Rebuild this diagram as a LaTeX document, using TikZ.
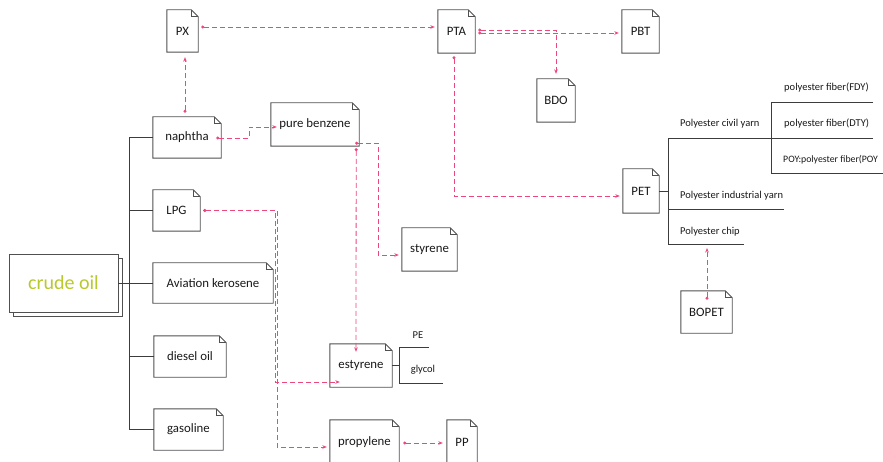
\documentclass[tikz,border=0pt]{standalone}
\usepackage{fontspec}
\setmainfont{Carlito}
\usetikzlibrary{arrows.meta,shadows}
\definecolor{flow}{RGB}{236,72,124}
\definecolor{boxc}{RGB}{80,80,80}
\definecolor{treec}{RGB}{60,60,60}
\definecolor{txt}{RGB}{25,25,25}
\definecolor{oilc}{RGB}{185,200,46}
\tikzset{
  doc/.style={inner sep=0pt, text=txt, font=\fontsize{12.8}{14}\selectfont},
  boxline/.style={draw=boxc, line width=0.9pt},
  flowline/.style={draw=flow, line width=0.8pt, dash pattern=on 5pt off 3pt,
    {Circle[length=3pt]}-{Stealth[length=4.5pt,width=3.6pt]}},
  tree/.style={draw=treec, line width=0.8pt},
  small/.style={inner sep=0pt, anchor=west, text=txt, font=\fontsize{10.5}{12}\selectfont},
}
\begin{document}
\begin{tikzpicture}[x=1pt,y=-1pt]
\useasboundingbox (0,0) rectangle (883,462);
\clip (0,0) rectangle (883,462);
\fill[white] (0,0) rectangle (883,462);

% document nodes
\node[doc, minimum width=31pt, minimum height=42pt] (px) at (182.5,31) {PX};
\node[doc, minimum width=37pt, minimum height=43pt] (pta) at (456.5,31.5) {PTA};
\node[doc, minimum width=37pt, minimum height=43pt] (pbt) at (640.5,31.5) {PBT};
\node[doc, minimum width=38pt, minimum height=43pt] (bdo) at (556,100.5) {BDO};
\node[doc, minimum width=68pt, minimum height=41pt] (naphtha) at (187,137.5) {naphtha};
\node[doc, minimum width=88pt, minimum height=43pt] (benzene) at (315,124.5) {pure benzene};
\node[doc, minimum width=47pt, minimum height=41pt] (lpg) at (176.5,210.5) {LPG};
\node[doc, minimum width=120pt, minimum height=40pt] (avi) at (213,283) {Aviation kerosene};
\node[doc, minimum width=55pt, minimum height=43pt] (styrene) at (429.5,249.5) {styrene};
\node[doc, minimum width=72pt, minimum height=41pt] (diesel) at (190,356.5) {diesel oil};
\node[doc, minimum width=69pt, minimum height=41pt] (gasoline) at (188.5,429.5) {gasoline};
\node[doc, minimum width=62pt, minimum height=43pt] (estyrene) at (361,365.5) {estyrene};
\node[doc, minimum width=69pt, minimum height=44pt] (propylene) at (364.5,442) {propylene};
\node[doc, minimum width=30pt, minimum height=44pt] (pp) at (462,442) {PP};
\node[doc, minimum width=36pt, minimum height=44pt] (pet) at (641,191) {PET};
\node[doc, minimum width=51pt, minimum height=42pt] (bopet) at (706.5,312) {BOPET};

\foreach \n in {px,pta,pbt,bdo,naphtha,benzene,lpg,avi,styrene,diesel,gasoline,estyrene,propylene,pp,pet,bopet}{
  \draw[boxline] (\n.north west) -- ([xshift=-7pt]\n.north east) -- ([yshift=-7pt]\n.north east)
     -- (\n.south east) -- (\n.south west) -- cycle;
  \draw[boxline] ([xshift=-7pt]\n.north east) -- ([xshift=-7pt,yshift=-7pt]\n.north east) -- ([yshift=-7pt]\n.north east);
}

% crude oil
\node[draw=boxc, line width=0.9pt, fill=white, minimum width=109pt, minimum height=58pt,
  copy shadow={shadow xshift=4pt, shadow yshift=-4pt},
  text=oilc, font=\fontsize{20}{22}\selectfont] (oil) at (63.5,283) {crude oil};

% trunk
\coordinate (tt) at (129,137.5);
\coordinate (tb) at (129,429.5);
\draw[tree] (naphtha.west) -- (tt) -- (tb) -- (gasoline.west);
\draw[tree] (lpg.west) -- (lpg.west -| tt);
\draw[tree] (diesel.west) -- (diesel.west -| tt);
\draw[tree] (oil.east) -- (oil.east -| avi.west);

% estyrene branch
\coordinate (pe1) at (399,347);
\coordinate (pe2) at (429,347);
\coordinate (gl1) at (399,383);
\coordinate (gl2) at (443,383);
\draw[tree] (estyrene.east) -- (estyrene.east -| pe1);
\draw[tree] (pe2) -- (pe1) -- (gl1) -- (gl2);
\node[small, anchor=center] (pe) at (418,335) {PE};
\node[small, anchor=center] (glycol) at (423,370) {glycol};

% PET branch
\coordinate (v1) at (668,138);
\coordinate (v2) at (668,244);
\coordinate (civ) at (873,138);
\coordinate (ind1) at (668,209);
\coordinate (ind2) at (784,209);
\coordinate (chipc) at (707,244);
\coordinate (chip2) at (744,244);
\coordinate (w1) at (771,102);
\coordinate (w2) at (771,173);
\coordinate (fdy) at (873,102);
\coordinate (poy) at (885,173);
\draw[tree] (pet.east) -- (pet.east -| v1);
\draw[tree] (civ) -- (v1) -- (v2) -- (chip2);
\draw[tree] (ind1) -- (ind2);
\draw[tree] (fdy) -- (w1) -- (w2) -- (poy);
\node[small] (t1) at (680,124) {Polyester civil yarn};
\node[small] (t2) at (680,196) {Polyester industrial yarn};
\node[small] (t3) at (680,232) {Polyester chip};
\node[small] (f1) at (784,88) {polyester fiber(FDY)};
\node[small] (f2) at (784,124) {polyester fiber(DTY)};
\node[small, font=\fontsize{9.8}{12}\selectfont] (f3) at (783,160) {POY:polyester fiber(POY};

% flows
\draw[flowline, shorten <=3pt, shorten >=3pt] ([yshift=4pt]px.east) -- ([yshift=4pt]px.east -| pta.west);
\draw[flowline, shorten <=4pt, shorten >=5pt] ([xshift=2.5pt]px.south |- naphtha.north) -- ([xshift=2.5pt]px.south);
\draw[flowline] ([xshift=-5pt,yshift=-0.5pt]naphtha.east) -- ++(33pt,0) |- ([xshift=6pt,yshift=-2.5pt]benzene.west);
\draw[flowline, shorten <=3pt, shorten >=3pt] ([yshift=-1.5pt]pta.east) -- ([yshift=-1.5pt]pta.east -| pbt.west);
\draw[flowline, shorten <=3pt, shorten >=5pt] ([yshift=1.5pt]pta.east) -| (bdo.north);
\draw[flowline, shorten <=3pt, shorten >=3pt] ([xshift=-2.5pt]pta.south) |- ([yshift=-5pt]pet.west);
\draw[flowline, shorten >=3pt] ([shift={(-4pt,3pt)}]benzene.south east) -- ++(23pt,0) |- ([yshift=-5.5pt]styrene.west);
\draw[flowline, shorten <=2pt] ([xshift=-3pt]benzene.south east) -- ([xshift=-5pt,yshift=-8pt]estyrene.north);
\draw[flowline, shorten <=3pt] (lpg.east) -- ++(75pt,0) |- ([xshift=10pt,yshift=-16.5pt]estyrene.west);
\draw[flowline, shorten <=3pt, shorten >=3pt] (lpg.east) -- ++(77pt,0) |- ([yshift=-5pt]propylene.west);
\draw[flowline, shorten <=4pt, shorten >=4pt] ([yshift=-1pt]propylene.east) -- ([yshift=-1pt]propylene.east -| pp.west);
\draw[flowline, shorten >=4pt] ([xshift=0.5pt,yshift=-9pt]bopet.north) -- (chipc);
\end{tikzpicture}
\end{document}
